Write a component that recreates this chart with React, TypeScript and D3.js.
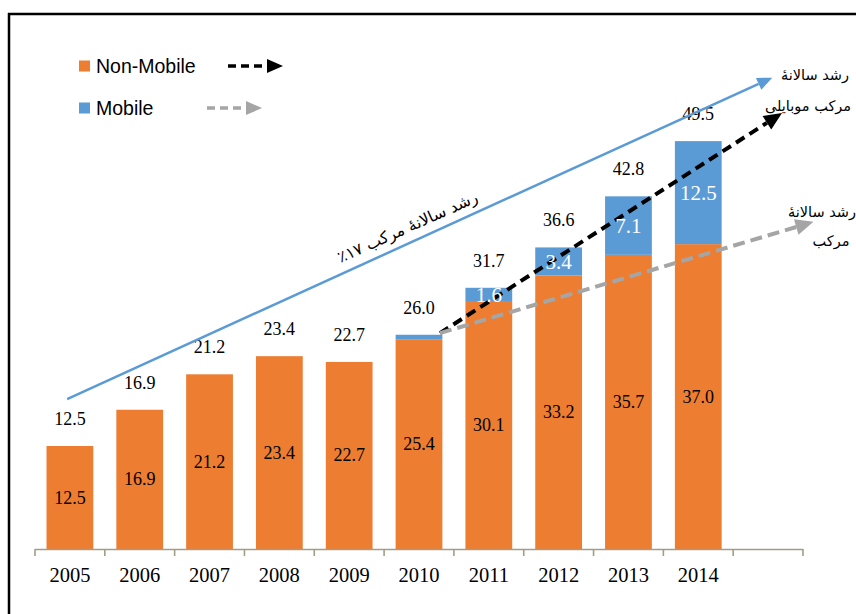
import React from "react";
import * as d3 from "d3";

const years = ["2005", "2006", "2007", "2008", "2009", "2010", "2011", "2012", "2013", "2014"];
const nonMobile = [12.5, 16.9, 21.2, 23.4, 22.7, 25.4, 30.1, 33.2, 35.7, 37.0];
const mobile = [0, 0, 0, 0, 0, 0.6, 1.6, 3.4, 7.1, 12.5];
const legendItems = ["Non-Mobile", "Mobile"];

// annotation arrows: x in category-slot units, y in data units
const arrowStarts = [
  { x: 0.46, y: 18.2 },
  { x: 5.8, y: 26.2 },
  { x: 5.8, y: 26.2 },
];
const arrowEnds = [
  { x: 10.56, y: 57.2 },
  { x: 10.7, y: 52.9 },
  { x: 11.15, y: 39.7 },
];

const ORANGE = "#ED7D31";
const BLUE = "#5B9BD5";
const GRAY = "#A5A5A5";
const SERIF = "'Liberation Serif', 'Times New Roman', serif";
const SANS = "'Liberation Sans', Arial, sans-serif";
const AR = "'DejaVu Sans', 'Noto Sans', sans-serif";

function head(x0: number, y0: number, x1: number, y1: number, L: number, W: number) {
  const dx = x1 - x0, dy = y1 - y0;
  const len = Math.hypot(dx, dy);
  const ux = dx / len, uy = dy / len;
  const bx = x1 - ux * L, by = y1 - uy * L;
  const px = -uy, py = ux;
  const pts = [
    [x1, y1],
    [bx + px * W / 2, by + py * W / 2],
    [bx - px * W / 2, by - py * W / 2],
  ];
  return { pts: pts.map((p) => p.join(",")).join(" "), bx, by };
}

export default function App() {
  const W = 856, H = 614;
  const domain = [...years, "_"];
  const x = d3.scaleBand<string>().domain(domain).range([35, 803]).paddingInner(0.33).paddingOuter(0.165);
  const step = x.step();
  const xPos = d3.scaleLinear().domain([0, 11]).range([35, 803]);
  const y = d3.scaleLinear().domain([0, 60]).range([549, 54.6]);
  const bw = x.bandwidth();

  const arrowStyles = [
    { color: BLUE, width: 2.5, dash: undefined as string | undefined, L: 15, Wd: 13 },
    { color: "#000", width: 4, dash: "10 6", L: 18, Wd: 16 },
    { color: GRAY, width: 4, dash: "12 6", L: 18, Wd: 16 },
  ];

  const ticks = d3.range(0, 12).map((i) => 35 + i * step);

  return (
    <svg width={W} height={H} style={{ position: "fixed", left: 0, top: 0, background: "#fff" }}>
      <rect x={0} y={0} width={W} height={H} fill="#fff" />
      {/* frame */}
      <line x1={8} y1={14} x2={W} y2={14} stroke="#000" strokeWidth={2.5} />
      <line x1={9} y1={13} x2={9} y2={H} stroke="#000" strokeWidth={2.5} />

      {/* bars */}
      {years.map((yr, i) => {
        const x0 = x(yr)!;
        const total = nonMobile[i] + mobile[i];
        return (
          <g key={yr}>
            <rect x={x0} y={y(nonMobile[i])} width={bw} height={y(0) - y(nonMobile[i])} fill={ORANGE} />
            {mobile[i] > 0 && (
              <rect x={x0} y={y(total)} width={bw} height={y(nonMobile[i]) - y(total)} fill={BLUE} />
            )}
          </g>
        );
      })}

      {/* axis */}
      <line x1={35} x2={803} y1={549.5} y2={549.5} stroke="#A39D84" strokeWidth={1.6} />
      {ticks.map((t, i) => (
        <line key={i} x1={t} x2={t} y1={549} y2={556} stroke="#A39D84" strokeWidth={1.6} />
      ))}
      {years.map((yr) => (
        <text key={yr} x={x(yr)! + bw / 2} y={582} textAnchor="middle" fontFamily={SERIF} fontSize={20.5} fill="#000">
          {yr}
        </text>
      ))}

      {/* value labels */}
      {years.map((yr, i) => {
        const cx = x(yr)! + bw / 2;
        const total = nonMobile[i] + mobile[i];
        return (
          <g key={"l" + yr}>
            <text x={cx} y={y(nonMobile[i] / 2) + 6} textAnchor="middle" fontFamily={SERIF} fontSize={18} fill="#000">
              {nonMobile[i].toFixed(1)}
            </text>
            <text x={cx} y={y(total) - 21} textAnchor="middle" fontFamily={SERIF} fontSize={18} fill="#000">
              {total.toFixed(1)}
            </text>
          </g>
        );
      })}

      {/* arrows */}
      {arrowStarts.map((s, i) => {
        const e = arrowEnds[i];
        const st = arrowStyles[i];
        const x0 = xPos(s.x), y0 = y(s.y), x1 = xPos(e.x), y1 = y(e.y);
        const h = head(x0, y0, x1, y1, st.L, st.Wd);
        return (
          <g key={"a" + i}>
            <line x1={x0} y1={y0} x2={h.bx} y2={h.by} stroke={st.color} strokeWidth={st.width} strokeDasharray={st.dash} />
            <polygon points={h.pts} fill={st.color} />
          </g>
        );
      })}

      {/* mobile labels (drawn above arrows) */}
      {years.map((yr, i) => {
        if (mobile[i] < 1) return null;
        const cx = x(yr)! + bw / 2;
        const mid = y(nonMobile[i] + mobile[i] / 2);
        return (
          <text key={"m" + yr} x={cx} y={mid + 7.5} textAnchor="middle" fontFamily={SERIF} fontSize={21} fill="#fff">
            {mobile[i].toFixed(1)}
          </text>
        );
      })}

      {/* rotated CAGR text */}
      <text
        transform="translate(408,228) rotate(-24)"
        textAnchor="middle"
        dominantBaseline="middle"
        direction="rtl"
        fontFamily={AR}
        fontSize={16}
        fill="#000"
      >
        رشد سالانۀ مرکب ۱۷٪
      </text>

      {/* right annotations */}
      <text x={815} y={80} textAnchor="middle" direction="rtl" fontFamily={AR} fontSize={14.5} fill="#000">رشد سالانۀ</text>
      <text x={808} y={111} textAnchor="middle" direction="rtl" fontFamily={AR} fontSize={14.5} fill="#000">مرکب موبایلی</text>
      <text x={822} y={217} textAnchor="middle" direction="rtl" fontFamily={AR} fontSize={14.5} fill="#000">رشد سالانۀ</text>
      <text x={831} y={246} textAnchor="middle" direction="rtl" fontFamily={AR} fontSize={14.5} fill="#000">مرکب</text>

      {/* legend */}
      {legendItems.map((name, i) => {
        const ly = 66 + i * 42;
        return (
          <g key={name}>
            <rect x={79} y={ly - 5.5} width={11} height={11} fill={i === 0 ? ORANGE : BLUE} />
            <text x={96} y={ly} dominantBaseline="central" fontFamily={SANS} fontSize={19.5} fill="#000">
              {name}
            </text>
          </g>
        );
      })}
      {(() => {
        const items = [
          { x0: 228, x1: 283, yy: 66, c: "#000" },
          { x0: 207, x1: 262, yy: 108, c: GRAY },
        ];
        return items.map((it, i) => {
          const h = head(it.x0, it.yy, it.x1, it.yy, 16, 14);
          return (
            <g key={"la" + i}>
              <line x1={it.x0} y1={it.yy} x2={h.bx} y2={it.yy} stroke={it.c} strokeWidth={3.5} strokeDasharray="8 5" />
              <polygon points={h.pts} fill={it.c} />
            </g>
          );
        });
      })()}
    </svg>
  );
}
